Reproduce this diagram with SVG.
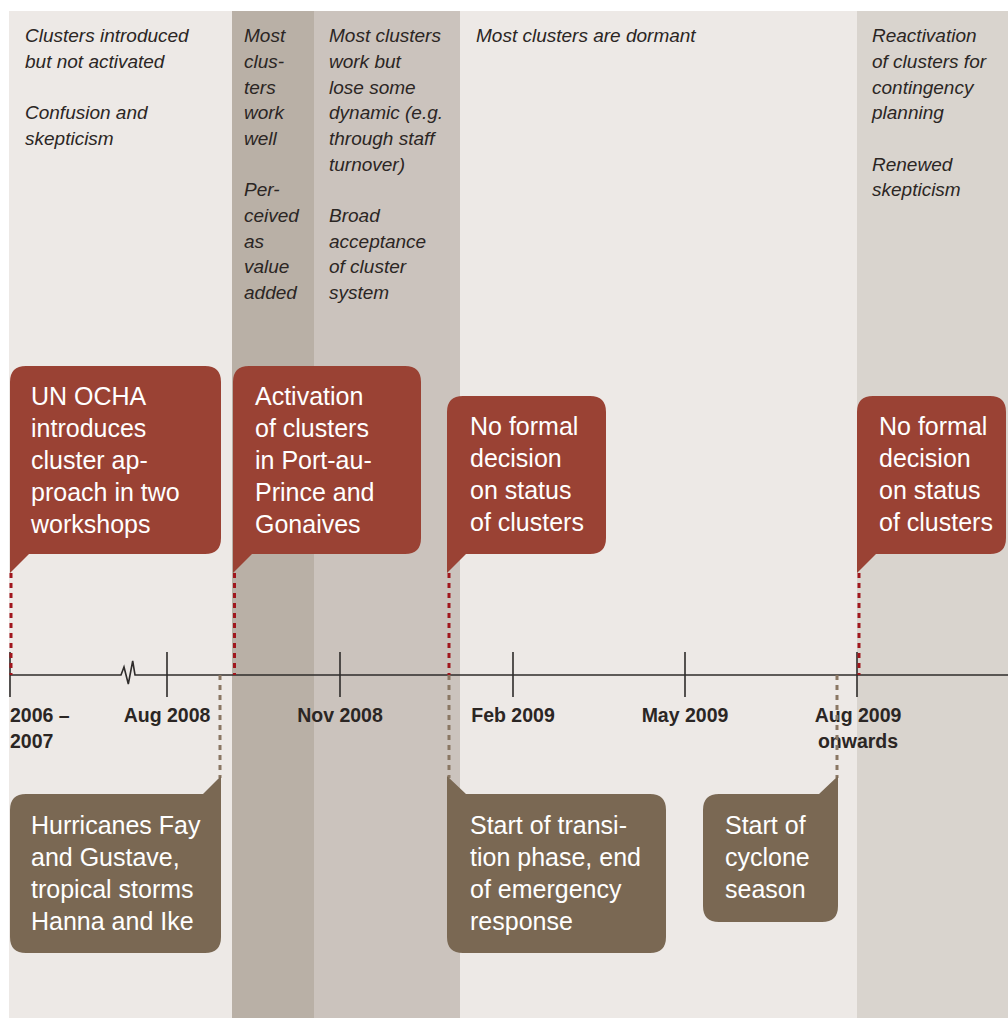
<svg xmlns="http://www.w3.org/2000/svg" width="1008" height="1018" viewBox="0 0 1008 1018">
<style>
.phase{font-family:"Liberation Sans",Arial,sans-serif;font-style:italic;font-size:19px;fill:#2b2624}
.box{font-family:"Liberation Sans",Arial,sans-serif;font-size:25px;fill:#ffffff}
.date{font-family:"Liberation Sans",Arial,sans-serif;font-weight:bold;font-size:19.5px;fill:#2b2624}
.red{fill:#9a4234}
.brown{fill:#7a6853}
.rdash{stroke:#a0161d;stroke-width:3;stroke-dasharray:5 5;fill:none}
.bdash{stroke:#8a7763;stroke-width:3;stroke-dasharray:5 5;fill:none}
.axis{stroke:#2f2c2b;stroke-width:1.6;fill:none}
</style>
<rect x="0" y="0" width="1008" height="1018" fill="#ffffff"/>
<g id="background">
<rect x="9" y="11" width="223" height="1007" fill="#ede9e6"/>
<rect x="232" y="11" width="82" height="1007" fill="#b9b0a6"/>
<rect x="314" y="11" width="146" height="1007" fill="#cbc3bd"/>
<rect x="460" y="11" width="397" height="1007" fill="#ede9e6"/>
<rect x="857" y="11" width="151" height="1007" fill="#d9d4ce"/>
</g>
<g id="phase-texts" class="phase">
<text x="25" y="42">Clusters introduced</text>
<text x="25" y="68">but not activated</text>
<text x="25" y="119">Confusion and</text>
<text x="25" y="145">skepticism</text>
<text x="244" y="42">Most</text>
<text x="244" y="68">clus-</text>
<text x="244" y="94">ters</text>
<text x="244" y="119">work</text>
<text x="244" y="145">well</text>
<text x="244" y="196">Per-</text>
<text x="244" y="222">ceived</text>
<text x="244" y="248">as</text>
<text x="244" y="273">value</text>
<text x="244" y="299">added</text>
<text x="329" y="42">Most clusters</text>
<text x="329" y="68">work but</text>
<text x="329" y="94">lose some</text>
<text x="329" y="119">dynamic (e.g.</text>
<text x="329" y="145">through staff</text>
<text x="329" y="171">turnover)</text>
<text x="329" y="222">Broad</text>
<text x="329" y="248">acceptance</text>
<text x="329" y="273">of cluster</text>
<text x="329" y="299">system</text>
<text x="476" y="42">Most clusters are dormant</text>
<text x="872" y="42">Reactivation</text>
<text x="872" y="68">of clusters for</text>
<text x="872" y="94">contingency</text>
<text x="872" y="119">planning</text>
<text x="872" y="171">Renewed</text>
<text x="872" y="196">skepticism</text>
</g>
<g id="timeline">
<path class="axis" d="M10,675 L121,675 L124,667 L128.3,684 L132.7,661 L135,675 L1008,675"/>
<path class="axis" d="M10,652 V697 M167,652 V697 M340,652 V697 M513,652 V697 M685,652 V697 M857,652 V697"/>
<g class="date">
<text x="10" y="722">2006 –</text>
<text x="10" y="748">2007</text>
<text x="167" y="722" text-anchor="middle">Aug 2008</text>
<text x="340" y="722" text-anchor="middle">Nov 2008</text>
<text x="513" y="722" text-anchor="middle">Feb 2009</text>
<text x="685" y="722" text-anchor="middle">May 2009</text>
<text x="858" y="722" text-anchor="middle">Aug 2009</text>
<text x="858" y="748" text-anchor="middle">onwards</text>
</g>
</g>
<g id="connectors">
<path class="rdash" d="M11,573 V675"/>
<path class="rdash" d="M234.5,573 V675"/>
<path class="rdash" d="M449,573 V675"/>
<path class="rdash" d="M859,573 V675"/>
<path class="bdash" d="M220,675 V778"/>
<path class="bdash" d="M449,675 V778"/>
<path class="bdash" d="M837,675 V778"/>
</g>
<g id="node-unocha">
<path class="red" d="M10,573 L10,382 Q10,366 26,366 L205,366 Q221,366 221,382 L221,538 Q221,554 205,554 L29,554 Z"/>
<text class="box"><tspan x="31" y="405">UN OCHA</tspan><tspan x="31" y="437">introduces</tspan><tspan x="31" y="469">cluster ap-</tspan><tspan x="31" y="501">proach in two</tspan><tspan x="31" y="533">workshops</tspan></text>
</g>
<g id="node-activation">
<path class="red" d="M233,573 L233,382 Q233,366 249,366 L405,366 Q421,366 421,382 L421,538 Q421,554 405,554 L252,554 Z"/>
<text class="box"><tspan x="255" y="405">Activation</tspan><tspan x="255" y="437">of clusters</tspan><tspan x="255" y="469">in Port-au-</tspan><tspan x="255" y="501">Prince and</tspan><tspan x="255" y="533">Gonaives</tspan></text>
</g>
<g id="node-noformal-1">
<path class="red" d="M447,573 L447,412 Q447,396 463,396 L590,396 Q606,396 606,412 L606,538 Q606,554 590,554 L466,554 Z"/>
<text class="box"><tspan x="470" y="435">No formal</tspan><tspan x="470" y="467">decision</tspan><tspan x="470" y="499">on status</tspan><tspan x="470" y="531">of clusters</tspan></text>
</g>
<g id="node-noformal-2">
<path class="red" d="M857,573 L857,412 Q857,396 873,396 L990,396 Q1006,396 1006,412 L1006,538 Q1006,554 990,554 L876,554 Z"/>
<text class="box"><tspan x="879" y="435">No formal</tspan><tspan x="879" y="467">decision</tspan><tspan x="879" y="499">on status</tspan><tspan x="879" y="531">of clusters</tspan></text>
</g>
<g id="node-hurricanes">
<path class="brown" d="M10,810 Q10,794 26,794 L203,794 L221,776 L221,937 Q221,953 205,953 L26,953 Q10,953 10,937 Z"/>
<text class="box"><tspan x="31" y="834">Hurricanes Fay</tspan><tspan x="31" y="866">and Gustave,</tspan><tspan x="31" y="898">tropical storms</tspan><tspan x="31" y="930">Hanna and Ike</tspan></text>
</g>
<g id="node-transition">
<path class="brown" d="M447,776 L466,794 L650,794 Q666,794 666,810 L666,937 Q666,953 650,953 L463,953 Q447,953 447,937 Z"/>
<text class="box"><tspan x="470" y="834">Start of transi-</tspan><tspan x="470" y="866">tion phase, end</tspan><tspan x="470" y="898">of emergency</tspan><tspan x="470" y="930">response</tspan></text>
</g>
<g id="node-cyclone">
<path class="brown" d="M703,810 Q703,794 719,794 L819,794 L838,776 L838,906 Q838,922 822,922 L719,922 Q703,922 703,906 Z"/>
<text class="box"><tspan x="725" y="834">Start of</tspan><tspan x="725" y="866">cyclone</tspan><tspan x="725" y="898">season</tspan></text>
</g>
</svg>
